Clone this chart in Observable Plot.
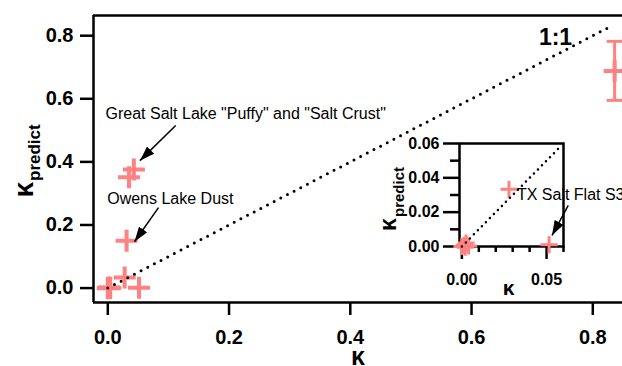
<!DOCTYPE html>
<html><head><meta charset="utf-8">
<script src="https://cdn.jsdelivr.net/npm/d3@7"></script>
<script src="https://cdn.jsdelivr.net/npm/@observablehq/plot@0.6"></script>
<style>
body{margin:0;background:#fff;}
#wrap{position:relative;width:622px;height:366px;overflow:hidden;background:#fff;}
</style></head><body><div id="wrap"></div>
<script>
// ---- data ----
const kappa        = [0.0000, 0.0015, 0.0025, 0.0040, 0.0020, 0.0278, 0.0515, 0.031, 0.043, 0.035, 0.836];
const kappaPredict = [0.0000, 0.0008, 0.0020, 0.0003, -0.0005, 0.0333, 0.0010, 0.150, 0.376, 0.351, 0.688];
const errKappa = [0.836];
const errLow   = [0.595];
const errHigh  = [0.782];
const oneToOne = [0, 0.825];
const insetOneToOne = [0, 0.0585];
const xTicks = [0, 0.2, 0.4, 0.6, 0.8];
const yTicks = [0, 0.2, 0.4, 0.6, 0.8];
const insetXTicks = [0, 0.05];
const insetXMinor = [0.01, 0.02, 0.03, 0.04, 0.06];
const insetYTicks = [0, 0.02, 0.04, 0.06];
const insetYMinor = [0.01, 0.03, 0.05];
const xDomain = [-0.0236, 0.849];
const yDomain = [-0.0457, 0.864];
const insetXDomain = [-0.0014, 0.06];
const insetYDomain = [0, 0.06];
const labelText = ['Great Salt Lake "Puffy" and "Salt Crust"', "Owens Lake Dust"];
const labelKappa = [-0.0038, -0.001];
const labelKappaPredict = [0.5375, 0.2667];
const arrowFrom = [[0.112, 0.5156], [0.0836, 0.255]];
const arrowTo   = [[0.0529, 0.404], [0.044, 0.147]];
const insetLabel = ["TX Salt Flat S3"];
const insetLabelAt = [[0.0325, 0.0269]];
const insetArrowFrom = [[0.0628, 0.024]];
const insetArrowTo = [[0.0532, 0.0064]];

// ---- build ----
const FONT = "'Liberation Sans', Arial, Helvetica, sans-serif";
const PINK = "#ff8282";
const points = kappa.map((k, i) => ({k, kp: kappaPredict[i]}));
const insetPoints = points.filter(d => d.k < 0.06 && d.kp < 0.06);
const errBars = errKappa.map((k, i) => ({k, lo: errLow[i], hi: errHigh[i]}));
const labels = labelText.map((t, i) => ({t, k: labelKappa[i], kp: labelKappaPredict[i]}));
const arrows = arrowFrom.map((f, i) => ({x1: f[0], y1: f[1], x2: arrowTo[i][0], y2: arrowTo[i][1]}));
const insetLabels = insetLabel.map((t, i) => ({t, k: insetLabelAt[i][0], kp: insetLabelAt[i][1]}));
const insetArrows = insetArrowFrom.map((f, i) => ({x1: f[0], y1: f[1], x2: insetArrowTo[i][0], y2: insetArrowTo[i][1]}));

const plusSymbol = {draw(ctx, size) { const r = Math.sqrt(size / Math.PI); ctx.moveTo(-r, 0); ctx.lineTo(r, 0); ctx.moveTo(0, -r); ctx.lineTo(0, r); }};
const capSymbol = {draw(ctx, size) { const r = Math.sqrt(size / Math.PI); ctx.moveTo(-r, 0); ctx.lineTo(r, 0); }};

const main = Plot.plot({
  width: 622, height: 366,
  marginLeft: 93, marginRight: 0, marginTop: 15, marginBottom: 64,
  style: {fontFamily: FONT, fontSize: "20px", fontWeight: "bold", color: "black", background: "transparent", overflow: "visible"},
  x: {domain: xDomain, axis: null},
  y: {domain: yDomain, axis: null},
  marks: [
    Plot.axisX(xTicks, {tickSize: 13, tickPadding: 14, strokeWidth: 2.5, tickFormat: d3.format(".1f"), label: null, fontSize: 20}),
    Plot.axisY(yTicks, {tickSize: 13, tickPadding: 7, strokeWidth: 2.5, tickFormat: d3.format(".1f"), label: null, fontSize: 20}),
    Plot.ruleX([xDomain[0]], {strokeWidth: 2.5}),
    Plot.ruleY(yDomain, {strokeWidth: 2.5}),
    Plot.ruleX(errBars, {x: "k", y1: "lo", y2: "hi", stroke: PINK, strokeWidth: 3}),
    Plot.dot(errBars, {x: "k", y: "lo", symbol: capSymbol, r: 8, stroke: PINK, strokeWidth: 3, fill: "none"}),
    Plot.dot(errBars, {x: "k", y: "hi", symbol: capSymbol, r: 8, stroke: PINK, strokeWidth: 3, fill: "none"}),
    Plot.dot(points, {x: "k", y: "kp", symbol: plusSymbol, r: 11, stroke: PINK, strokeWidth: 4, fill: "none"}),
    Plot.line(oneToOne, {x: d => d, y: d => d, stroke: "black", strokeWidth: 3, strokeDasharray: "0 7.5", strokeLinecap: "round"}),
    Plot.text(["1:1"], {x: [0.7385], y: [0.769], text: d => d, fontSize: 23, textAnchor: "middle", lineAnchor: "bottom"}),
    Plot.text(labels, {x: "k", y: "kp", text: "t", fontSize: 16, fontWeight: "normal", textAnchor: "start", lineAnchor: "bottom"}),
    Plot.link(arrows, {x1: "x1", y1: "y1", x2: "x2", y2: "y2", stroke: "black", strokeWidth: 1.5}),
    Plot.text(["κ"], {text: d => d, frameAnchor: "bottom", lineAnchor: "bottom", dy: 62, fontSize: 25}),
    Plot.text(["κ"], {text: d => d, frameAnchor: "left", rotate: -90, textAnchor: "start", lineAnchor: "bottom", dx: -61, dy: 38.5, fontSize: 28}),
    Plot.text(["predict"], {text: d => d, frameAnchor: "left", rotate: -90, textAnchor: "start", lineAnchor: "bottom", dx: -54, dy: 22, fontSize: 17})
  ]
});

const inset = Plot.plot({
  width: 242, height: 180,
  marginLeft: 79, marginRight: 59, marginTop: 18, marginBottom: 59,
  style: {fontFamily: FONT, fontSize: "16px", fontWeight: "bold", color: "black", background: "transparent", overflow: "visible"},
  x: {domain: insetXDomain, axis: null},
  y: {domain: insetYDomain, axis: null},
  marks: [
    Plot.frame({strokeWidth: 2.5, fill: "white"}),
    Plot.axisX(insetXTicks, {tickSize: 13, tickPadding: 14, strokeWidth: 2.5, tickFormat: d3.format(".2f"), label: null, fontSize: 16}),
    Plot.axisX(insetXMinor, {tickSize: 6, strokeWidth: 2.5, fill: "none", label: null}),
    Plot.axisY(insetYTicks, {tickSize: 16, tickPadding: 4, strokeWidth: 2.5, tickFormat: d3.format(".2f"), label: null, fontSize: 16}),
    Plot.axisY(insetYMinor, {tickSize: 9, strokeWidth: 2.5, fill: "none", label: null}),
    Plot.frame({strokeWidth: 2.5}),
    Plot.dot(insetPoints, {x: "k", y: "kp", symbol: plusSymbol, r: 8.5, stroke: PINK, strokeWidth: 3, fill: "none"}),
    Plot.line(insetOneToOne, {x: d => d, y: d => d, stroke: "black", strokeWidth: 2.5, strokeDasharray: "0 5.7", strokeLinecap: "round"}),
    Plot.text(insetLabels, {x: "k", y: "kp", text: "t", fontSize: 16, fontWeight: "normal", textAnchor: "start", lineAnchor: "bottom"}),
    Plot.link(insetArrows, {x1: "x1", y1: "y1", x2: "x2", y2: "y2", stroke: "black", strokeWidth: 1.5}),
    Plot.text(["κ"], {text: d => d, frameAnchor: "bottom", lineAnchor: "bottom", dx: -3, dy: 48, fontSize: 21}),
    Plot.text(["κ"], {text: d => d, frameAnchor: "left", rotate: -90, textAnchor: "start", lineAnchor: "bottom", dx: -64, dy: 36, fontSize: 23}),
    Plot.text(["predict"], {text: d => d, frameAnchor: "left", rotate: -90, textAnchor: "start", lineAnchor: "bottom", dx: -56, dy: 22, fontSize: 15})
  ]
});

function addArrowheads(svg, id) {
  const s = d3.select(svg);
  s.append("defs").append("marker")
    .attr("id", id).attr("viewBox", "0 0 15 10").attr("refX", 15).attr("refY", 5)
    .attr("markerWidth", 15).attr("markerHeight", 10).attr("markerUnits", "userSpaceOnUse").attr("orient", "auto")
    .append("path").attr("d", "M0,0L15,5L0,10Z").attr("fill", "black");
  s.selectAll('g[aria-label="link"] path').attr("marker-end", `url(#${id})`);
}
addArrowheads(main, "ahMain");
addArrowheads(inset, "ahInset");

const wrap = document.getElementById("wrap");
main.style.position = "absolute"; main.style.left = "0px"; main.style.top = "0px";
inset.style.position = "absolute"; inset.style.left = "380px"; inset.style.top = "125px";
wrap.appendChild(main);
wrap.appendChild(inset);
</script></body></html>
